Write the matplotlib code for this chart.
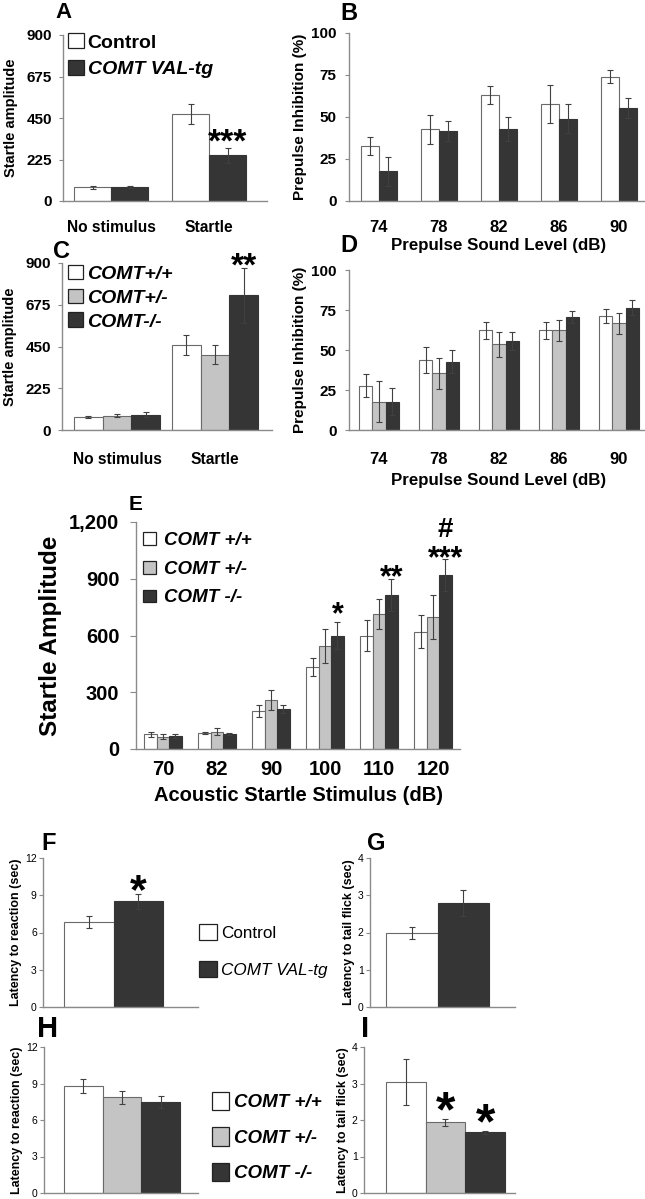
import matplotlib
matplotlib.use('Agg')
import matplotlib.pyplot as plt
from matplotlib.patches import Patch
from matplotlib.ticker import FuncFormatter
from matplotlib.transforms import offset_copy

# ---------------- data ----------------
a_cats = ['No stimulus', 'Startle']
a_ctrl = [74, 470]
a_ctrl_err = [7, 55]
a_val = [74, 248]
a_val_err = [6, 42]

b_levels = ['74', '78', '82', '86', '90']
b_ctrl = [32.5, 42.6, 63.0, 57.6, 74.0]
b_ctrl_err = [5.3, 8.5, 5.5, 11.4, 4.0]
b_val = [17.6, 41.6, 43.0, 49.0, 55.4]
b_val_err = [8.5, 6.0, 7.0, 8.6, 5.7]

c_cats = ['No stimulus', 'Startle']
c_wt = [69, 458]
c_wt_err = [6, 55]
c_het = [78, 406]
c_het_err = [10, 53]
c_ko = [82, 726]
c_ko_err = [13, 147]

d_levels = ['74', '78', '82', '86', '90']
d_wt = [27.7, 43.7, 62.3, 62.3, 71.0]
d_wt_err = [7.0, 8.0, 5.4, 5.4, 4.4]
d_het = [17.7, 35.4, 53.5, 62.3, 66.7]
d_het_err = [12.8, 9.8, 8.0, 6.5, 6.5]
d_ko = [17.7, 42.7, 55.6, 70.6, 76.5]
d_ko_err = [8.4, 7.0, 5.4, 4.0, 4.8]

e_levels = ['70', '82', '90', '100', '110', '120']
e_wt = [77, 83, 200, 435, 600, 621]
e_wt_err = [12, 5, 33, 48, 80, 85]
e_het = [65, 92, 259, 547, 713, 699]
e_het_err = [12, 17, 55, 90, 80, 115]
e_ko = [69, 77, 211, 600, 816, 918]
e_ko_err = [10, 5, 22, 70, 85, 85]

f_vals = [6.82, 8.52]
f_err = [0.47, 0.60]
g_vals = [1.99, 2.79]
g_err = [0.16, 0.34]
h_vals = [8.80, 7.85, 7.45]
h_err = [0.55, 0.50, 0.50]
i_vals = [3.03, 1.94, 1.66]
i_err = [0.63, 0.10, 0.05]

labels_tg = ['Control', 'COMT VAL-tg']
labels_c = ['COMT+/+', 'COMT+/-', 'COMT-/-']
labels_e = ['COMT +/+', 'COMT +/-', 'COMT -/-']

# ---------------- style ----------------
WHITE, GRAY, DARK = '#ffffff', '#c4c4c4', '#353535'
EDGE = '#6a6a6a'
AX = '#8a8a8a'
SANS = 'Liberation Sans'
plt.rcParams['font.family'] = [SANS, 'DejaVu Sans']

W, H = 645, 1199
fig = plt.figure(figsize=(W / 100, H / 100), dpi=100)


def ax_at(l, t, r, b):
    return fig.add_axes([l / W, 1 - b / H, (r - l) / W, (b - t) / H])


def style(ax, ylim, yticks, tsize, bold=True, ticklen=3, pad=3):
    ax.set_ylim(*ylim)
    ax.set_yticks(yticks)
    for s in ['top', 'right']:
        ax.spines[s].set_visible(False)
    for s in ['left', 'bottom']:
        ax.spines[s].set_color(AX)
        ax.spines[s].set_linewidth(1.0)
    ax.tick_params(axis='y', colors=AX, length=ticklen, width=0.8, labelsize=tsize,
                   labelcolor='black', pad=pad)
    for lab in ax.get_yticklabels():
        lab.set_fontweight('bold' if bold else 'normal')


ekw = dict(ecolor='#404040', elinewidth=0.8, capsize=2.2, capthick=0.8)


def bars(ax, xs, vals, errs, color, width):
    edge = DARK if color == DARK else EDGE
    ax.bar(xs, vals, width=width, color=color, edgecolor=edge, linewidth=0.8,
           yerr=errs, error_kw=ekw, zorder=2)


def mark(ax, x, ytop, s, fs, gap_px, glyph_bottom=0.29):
    # place a significance mark so that its glyph bottom sits gap_px above ytop
    dy = gap_px - glyph_bottom * fs * 100 / 72
    tr = offset_copy(ax.transData, fig=fig, x=0, y=dy, units='dots')
    ax.text(x, ytop, s, transform=tr, ha='center', va='baseline', fontsize=fs,
            fontweight='bold')


def letter(x, y, s, size=16):
    fig.text(x / W, 1 - y / H, s, fontsize=size, fontweight='bold', ha='left', va='center')


def sq(c):
    return Patch(facecolor=c, edgecolor='#222222', linewidth=0.9)


# ---------------- A ----------------
axA = ax_at(63, 35, 267, 201)
xa = list(range(len(a_cats)))
wa = 0.378
bars(axA, [x - wa / 2 for x in xa], a_ctrl, a_ctrl_err, WHITE, wa)
bars(axA, [x + wa / 2 for x in xa], a_val, a_val_err, DARK, wa)
axA.set_xlim(-0.49, 1.59)
style(axA, (0, 900), [0, 225, 450, 675, 900], 11, pad=5)
axA.set_xticks(xa)
axA.set_xticklabels(a_cats, fontsize=11.2, fontweight='bold')
axA.tick_params(axis='x', length=0, pad=14)
axA.set_ylabel('Startle amplitude', fontsize=10.5, fontweight='bold', labelpad=6)
mark(axA, 1 + wa / 2, a_val[1] + a_val_err[1], '***', 24, 6)
legA = axA.legend([sq(WHITE), sq(DARK)], labels_tg, loc='upper left',
                  bbox_to_anchor=(0.025, 1.01), frameon=False, borderpad=0,
                  handlelength=0.8, handleheight=0.8, handletextpad=0.2, labelspacing=0.42,
                  borderaxespad=0, prop=dict(family=SANS, weight='bold', size=14))
legA.get_texts()[1].set_fontstyle('italic')
letter(55, 13, 'A', 16)

# ---------------- B ----------------
axB = ax_at(349, 33, 649, 201)
xb = list(range(len(b_levels)))
wb = 0.3
bars(axB, [x - wb / 2 for x in xb], b_ctrl, b_ctrl_err, WHITE, wb)
bars(axB, [x + wb / 2 for x in xb], b_val, b_val_err, DARK, wb)
axB.set_xlim(-0.5, 4.5)
style(axB, (0, 100), [0, 25, 50, 75, 100], 11, pad=6)
axB.set_xticks(xb)
axB.set_xticklabels(b_levels, fontsize=12, fontweight='bold')
axB.tick_params(axis='x', length=0, pad=14)
axB.set_xlabel('Prepulse Sound Level (dB)', fontsize=12.2, fontweight='bold', labelpad=2)
axB.set_ylabel('Prepulse Inhibition (%)', fontsize=11, fontweight='bold', labelpad=3)
letter(340, 14, 'B', 17)

# ---------------- C ----------------
axC = ax_at(62, 263, 272, 430)
xc = list(range(len(c_cats)))
wc = 0.293
bars(axC, [x - wc for x in xc], c_wt, c_wt_err, WHITE, wc)
bars(axC, xc, c_het, c_het_err, GRAY, wc)
bars(axC, [x + wc for x in xc], c_ko, c_ko_err, DARK, wc)
axC.set_xlim(-0.56, 1.58)
style(axC, (0, 900), [0, 225, 450, 675, 900], 11, pad=5)
axC.set_xticks(xc)
axC.set_xticklabels(c_cats, fontsize=11.2, fontweight='bold')
axC.tick_params(axis='x', length=0, pad=16)
axC.set_ylabel('Startle amplitude', fontsize=10.5, fontweight='bold', labelpad=6)
mark(axC, 1 + wc, c_ko[1] + c_ko_err[1], '**', 24, 2)
legC = axC.legend([sq(WHITE), sq(GRAY), sq(DARK)], labels_c, loc='upper left',
                  bbox_to_anchor=(0.03, 0.99), frameon=False, borderpad=0,
                  handlelength=0.78, handleheight=0.78, handletextpad=0.2, labelspacing=0.3,
                  borderaxespad=0, prop=dict(family=SANS, weight='bold', size=14, style='italic'))
letter(53, 251, 'C', 17)

# ---------------- D ----------------
axD = ax_at(349, 270, 649, 430)
xd = list(range(len(d_levels)))
wd = 0.22
bars(axD, [x - wd for x in xd], d_wt, d_wt_err, WHITE, wd)
bars(axD, xd, d_het, d_het_err, GRAY, wd)
bars(axD, [x + wd for x in xd], d_ko, d_ko_err, DARK, wd)
axD.set_xlim(-0.5, 4.5)
style(axD, (0, 100), [0, 25, 50, 75, 100], 11, pad=6)
axD.set_xticks(xd)
axD.set_xticklabels(d_levels, fontsize=12, fontweight='bold')
axD.tick_params(axis='x', length=0, pad=16)
axD.set_xlabel('Prepulse Sound Level (dB)', fontsize=12.2, fontweight='bold', labelpad=4)
axD.set_ylabel('Prepulse Inhibition (%)', fontsize=11, fontweight='bold', labelpad=3)
letter(340, 246, 'D', 17)

# ---------------- E ----------------
axE = ax_at(136, 522, 460, 749)
xe = list(range(len(e_levels)))
we = 0.23
bars(axE, [x - we for x in xe], e_wt, e_wt_err, WHITE, we)
bars(axE, xe, e_het, e_het_err, GRAY, we)
bars(axE, [x + we for x in xe], e_ko, e_ko_err, DARK, we)
axE.set_xlim(-0.5, 5.5)
style(axE, (0, 1200), [0, 300, 600, 900, 1200], 14.5, ticklen=4, pad=8)
axE.yaxis.set_major_formatter(FuncFormatter(lambda v, p: f'{int(v):,}'))
axE.set_xticks(xe)
axE.set_xticklabels(e_levels, fontsize=14.5, fontweight='bold')
axE.tick_params(axis='x', length=0, pad=8)
axE.set_xlabel('Acoustic Startle Stimulus (dB)', fontsize=14.5, fontweight='bold', labelpad=5)
axE.set_ylabel('Startle Amplitude', fontsize=17.5, fontweight='bold', labelpad=5)
mark(axE, 3 + we, e_ko[3] + e_ko_err[3], '*', 22, 8)
mark(axE, 4 + we, e_ko[4] + e_ko_err[4], '**', 22, 1)
mark(axE, 5 + we, e_ko[5] + e_ko_err[5], '***', 22, 1)
mark(axE, 5 + we, e_ko[5] + e_ko_err[5], '#', 20, 22, glyph_bottom=0.0)
legE = axE.legend([sq(WHITE), sq(GRAY), sq(DARK)], labels_e, loc='upper left',
                  bbox_to_anchor=(0.022, 0.955), frameon=False, borderpad=0,
                  handlelength=0.66, handleheight=0.66, handletextpad=0.45, labelspacing=0.62,
                  borderaxespad=0, prop=dict(family=SANS, weight='bold', size=13.5, style='italic'))
letter(129, 504, 'E', 15)

# ---------------- F ----------------
small_lbl = dict(fontsize=9, fontweight='bold')
axF = ax_at(43, 858, 198, 1007)
bars(axF, [0], [f_vals[0]], [f_err[0]], WHITE, 1.0)
bars(axF, [1], [f_vals[1]], [f_err[1]], DARK, 1.0)
axF.set_xlim(-0.92, 2.2)
style(axF, (0, 12), [0, 3, 6, 9, 12], 7.5, bold=False, ticklen=3, pad=1.5)
axF.set_xticks([])
axF.set_ylabel('Latency to reaction (sec)', labelpad=2, **small_lbl)
mark(axF, 1, f_vals[1] + f_err[1], '*', 31, 3)
letter(41, 843, 'F', 17)

# ---------------- G ----------------
axG = ax_at(370, 858, 515, 1007)
bars(axG, [0], [g_vals[0]], [g_err[0]], WHITE, 1.0)
bars(axG, [1], [g_vals[1]], [g_err[1]], DARK, 1.0)
axG.set_xlim(-0.81, 2.0)
style(axG, (0, 4), [0, 1, 2, 3, 4], 7.5, bold=False, pad=1.5)
axG.set_xticks([])
axG.set_ylabel('Latency to tail flick (sec)', labelpad=2, **small_lbl)
letter(367, 843, 'G', 17)

legFG = fig.legend([sq(WHITE), sq(DARK)], labels_tg, loc='upper left',
                   bbox_to_anchor=(199 / W, 1 - 924 / H), frameon=False, borderpad=0,
                   handlelength=1.05, handleheight=1.05, handletextpad=0.25, labelspacing=1.2,
                   borderaxespad=0, prop=dict(family=SANS, size=12.3))
legFG.get_texts()[1].set_fontstyle('italic')

# ---------------- H ----------------
axH = ax_at(44, 1047, 198, 1193)
hc = [WHITE, GRAY, DARK]
for k in range(3):
    bars(axH, [k], [h_vals[k]], [h_err[k]], hc[k], 1.0)
axH.set_xlim(-1.02, 2.97)
style(axH, (0, 12), [0, 3, 6, 9, 12], 7.5, bold=False, pad=1.5)
axH.set_xticks([])
axH.set_ylabel('Latency to reaction (sec)', labelpad=2, **small_lbl)
letter(37, 1029, 'H', 21)

# ---------------- I ----------------
axI = ax_at(364, 1047, 515, 1193)
for k in range(3):
    bars(axI, [k], [i_vals[k]], [i_err[k]], hc[k], 1.0)
axI.set_xlim(-1.05, 2.75)
style(axI, (0, 4), [0, 1, 2, 3, 4], 7.5, bold=False, pad=1.5)
axI.set_xticks([])
axI.set_ylabel('Latency to tail flick (sec)', labelpad=2, **small_lbl)
for k in (1, 2):
    mark(axI, k, i_vals[k] + i_err[k], '*', 36, 7)
letter(361, 1029, 'I', 21)

fig.legend([sq(WHITE), sq(GRAY), sq(DARK)], labels_e, loc='upper left',
           bbox_to_anchor=(212 / W, 1 - 1092 / H), frameon=False, borderpad=0,
           handlelength=0.9, handleheight=1.12, handletextpad=0.3, labelspacing=0.85,
           borderaxespad=0, prop=dict(family=SANS, weight='bold', size=13.5, style='italic'))

fig.savefig('out.png', dpi=100)
